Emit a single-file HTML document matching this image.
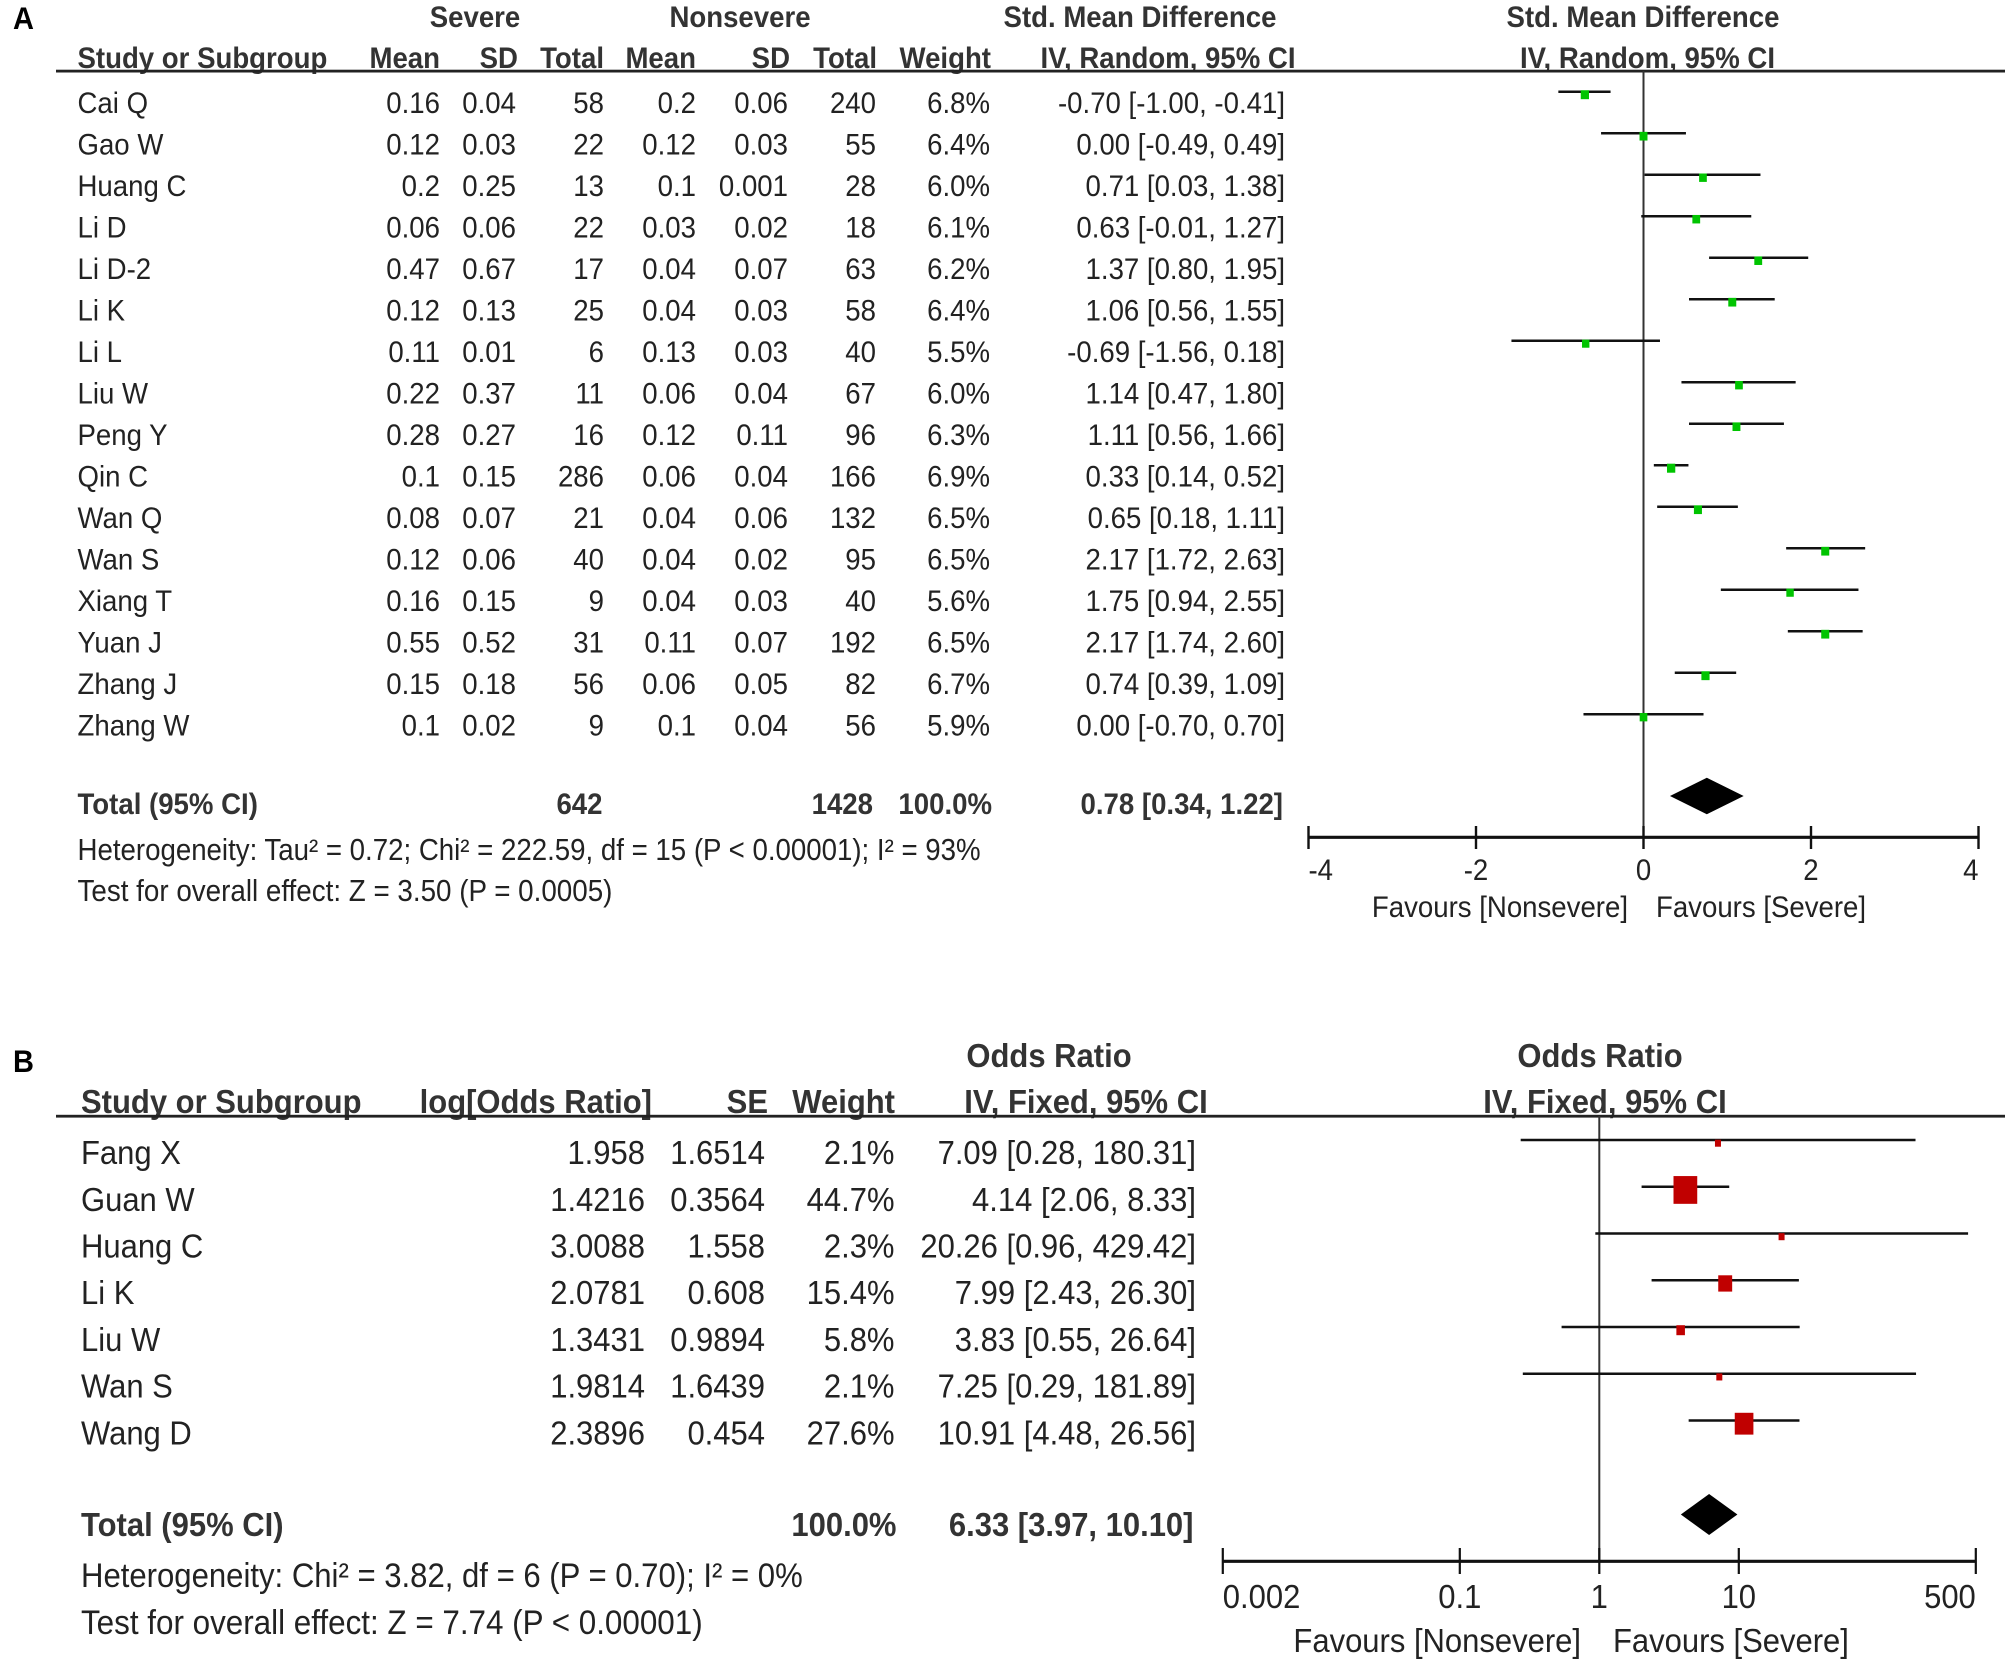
<!DOCTYPE html>
<html lang="en">
<head>
<meta charset="utf-8">
<title>Forest plots: severe vs nonsevere</title>
<style>
html,body{margin:0;padding:0;background:#fff;}
svg{display:block;}
text{font-family:"Liberation Sans",Arial,sans-serif;fill:#222;}
.a{font-size:27.6px;}
.b{font-size:31px;}
.h{font-weight:bold;fill:#333;}
.e{text-anchor:end;}
.m{text-anchor:middle;}
.p{font-size:29px;font-weight:bold;fill:#000;}
</style>
</head>
<body>
<svg id="chart" xmlns="http://www.w3.org/2000/svg" width="2008" height="1664" viewBox="0 0 2008 1664">
<rect x="0" y="0" width="2008" height="1664" fill="#fff"/>

<g id="panelA">
<text class="p" x="13" y="29">A</text>
<text class="a h m" x="475" y="27">Severe</text>
<text class="a h m" x="740" y="27">Nonsevere</text>
<text class="a h m" x="1140" y="27">Std. Mean Difference</text>
<text class="a h m" x="1643" y="27">Std. Mean Difference</text>
<text class="a h" x="77.5" y="68">Study or Subgroup</text>
<text class="a h e" x="440" y="68">Mean</text>
<text class="a h e" x="518" y="68">SD</text>
<text class="a h e" x="604" y="68">Total</text>
<text class="a h e" x="696" y="68">Mean</text>
<text class="a h e" x="790" y="68">SD</text>
<text class="a h e" x="877" y="68">Total</text>
<text class="a h e" x="991" y="68">Weight</text>
<text class="a h m" x="1168" y="68">IV, Random, 95% CI</text>
<text class="a h m" x="1647.5" y="68">IV, Random, 95% CI</text>
<rect x="56" y="69.7" width="1949" height="2.8" fill="#222"/>
<text class="a h" x="77.5" y="814">Total (95% CI)</text>
<text class="a h e" x="602.5" y="814">642</text>
<text class="a h e" x="873" y="814">1428</text>
<text class="a h e" x="992" y="814">100.0%</text>
<text class="a" style="font-size:27.65px" x="77.5" y="860">Heterogeneity: Tau² = 0.72; Chi² = 222.59, df = 15 (P &lt; 0.00001); I² = 93%</text>
<text class="a" style="font-size:27.8px" x="77.5" y="901">Test for overall effect: Z = 3.50 (P = 0.0005)</text>
<text class="a e" x="1628" y="917">Favours [Nonsevere]</text>
<text class="a" x="1656" y="917">Favours [Severe]</text>
</g>

<g id="panelB">
<text class="p" x="13" y="1072">B</text>
<text class="b h m" x="1049" y="1067">Odds Ratio</text>
<text class="b h m" x="1600" y="1067">Odds Ratio</text>
<text class="b h" x="81" y="1113">Study or Subgroup</text>
<text class="b h e" x="652" y="1113">log[Odds Ratio]</text>
<text class="b h e" x="768" y="1113">SE</text>
<text class="b h e" x="895" y="1113">Weight</text>
<text class="b h m" x="1086" y="1113">IV, Fixed, 95% CI</text>
<text class="b h m" x="1605" y="1113">IV, Fixed, 95% CI</text>
<rect x="56" y="1114.8" width="1949" height="2.8" fill="#222"/>
<text class="b h" x="81" y="1536">Total (95% CI)</text>
<text class="b h e" x="896.5" y="1536">100.0%</text>
<text class="b" style="font-size:31.1px" x="81" y="1587">Heterogeneity: Chi² = 3.82, df = 6 (P = 0.70); I² = 0%</text>
<text class="b" style="font-size:31.4px" x="81" y="1634">Test for overall effect: Z = 7.74 (P &lt; 0.00001)</text>
<text class="b e" x="1581" y="1652">Favours [Nonsevere]</text>
<text class="b" x="1613" y="1652">Favours [Severe]</text>
</g>
</svg>

<script>
// Panel A data
var studiesA = ['Cai Q','Gao W','Huang C','Li D','Li D-2','Li K','Li L','Liu W','Peng Y','Qin C','Wan Q','Wan S','Xiang T','Yuan J','Zhang J','Zhang W'];
var severeMean = ['0.16','0.12','0.2','0.06','0.47','0.12','0.11','0.22','0.28','0.1','0.08','0.12','0.16','0.55','0.15','0.1'];
var severeSD = ['0.04','0.03','0.25','0.06','0.67','0.13','0.01','0.37','0.27','0.15','0.07','0.06','0.15','0.52','0.18','0.02'];
var severeTotal = [58,22,13,22,17,25,6,11,16,286,21,40,9,31,56,9];
var nonMean = ['0.2','0.12','0.1','0.03','0.04','0.04','0.13','0.06','0.12','0.06','0.04','0.04','0.04','0.11','0.06','0.1'];
var nonSD = ['0.06','0.03','0.001','0.02','0.07','0.03','0.03','0.04','0.11','0.04','0.06','0.02','0.03','0.07','0.05','0.04'];
var nonTotal = [240,55,28,18,63,58,40,67,96,166,132,95,40,192,82,56];
var weightA = [6.8,6.4,6.0,6.1,6.2,6.4,5.5,6.0,6.3,6.9,6.5,6.5,5.6,6.5,6.7,5.9];
var smd = [-0.70,0.00,0.71,0.63,1.37,1.06,-0.69,1.14,1.11,0.33,0.65,2.17,1.75,2.17,0.74,0.00];
var smdLow = [-1.00,-0.49,0.03,-0.01,0.80,0.56,-1.56,0.47,0.56,0.14,0.18,1.72,0.94,1.74,0.39,-0.70];
var smdHigh = [-0.41,0.49,1.38,1.27,1.95,1.55,0.18,1.80,1.66,0.52,1.11,2.63,2.55,2.60,1.09,0.70];
var totalA = [0.78,0.34,1.22];
var ticksA = [-4,-2,0,2,4];

// Panel B data
var studiesB = ['Fang X','Guan W','Huang C','Li K','Liu W','Wan S','Wang D'];
var logOR = ['1.958','1.4216','3.0088','2.0781','1.3431','1.9814','2.3896'];
var seB = ['1.6514','0.3564','1.558','0.608','0.9894','1.6439','0.454'];
var weightB = [2.1,44.7,2.3,15.4,5.8,2.1,27.6];
var oddsRatio = [7.09,4.14,20.26,7.99,3.83,7.25,10.91];
var orLow = [0.28,2.06,0.96,2.43,0.55,0.29,4.48];
var orHigh = [180.31,8.33,429.42,26.30,26.64,181.89,26.56];
var totalB = [6.33,3.97,10.10];
var ticksB = [0.002,0.1,1,10,500];

var NS = 'http://www.w3.org/2000/svg';
var panelA = document.getElementById('panelA');
var panelB = document.getElementById('panelB');

// Axis functions
function xA(v){ return 1643.5 + v * 83.75; }
function xB(v){ return 1599.3 + Math.log(v) / Math.LN10 * 139.5; }
function rowA(i){ return 113 + i * 41.5; }
function rowB(i){ return 1164 + i * 46.75; }

function addText(parent, cls, x, y, str, name){
  var el = document.createElementNS(NS, 'text');
  el.setAttribute('class', cls);
  el.setAttribute('x', x);
  el.setAttribute('y', y);
  el.textContent = str;
  
  
  parent.appendChild(el);
  return el;
}
function addLine(parent, x1, y1, x2, y2, w, color, name){
  var el = document.createElementNS(NS, 'line');
  el.setAttribute('x1', x1);
  el.setAttribute('y1', y1);
  el.setAttribute('x2', x2);
  el.setAttribute('y2', y2);
  el.setAttribute('stroke', color);
  el.setAttribute('stroke-width', w);
  
  
  parent.appendChild(el);
  return el;
}
function addBox(parent, cx, cy, w, h, color, name){
  var el = document.createElementNS(NS, 'rect');
  el.setAttribute('x', cx - w / 2);
  el.setAttribute('y', cy - h / 2);
  el.setAttribute('width', w);
  el.setAttribute('height', h);
  el.setAttribute('fill', color);
  
  
  parent.appendChild(el);
  return el;
}
function addDiamond(parent, left, mid, right, cy, half, name){
  var el = document.createElementNS(NS, 'polygon');
  el.setAttribute('points', left + ',' + cy + ' ' + mid + ',' + (cy - half) + ' ' + right + ',' + cy + ' ' + mid + ',' + (cy + half));
  el.setAttribute('fill', '#000');
  
  
  parent.appendChild(el);
  return el;
}
function ci(e, l, h){
  return e.toFixed(2) + ' [' + l.toFixed(2) + ', ' + h.toFixed(2) + ']';
}

// Panel A rows
addLine(panelA, xA(0), 71, xA(0), 837, 2, '#333', 'no-effect-line');
studiesA.forEach(function(s, i){
  var y = rowA(i);
  var key = s.toLowerCase().replace(/\s+/g, '-');
  addText(panelA, 'a', 77.5, y, s, 'study-' + key);
  addText(panelA, 'a e', 440, y, severeMean[i], 'severe-mean-' + key);
  addText(panelA, 'a e', 516, y, severeSD[i], 'severe-sd-' + key);
  addText(panelA, 'a e', 604, y, severeTotal[i], 'severe-total-' + key);
  addText(panelA, 'a e', 696, y, nonMean[i], 'nonsevere-mean-' + key);
  addText(panelA, 'a e', 788, y, nonSD[i], 'nonsevere-sd-' + key);
  addText(panelA, 'a e', 876, y, nonTotal[i], 'nonsevere-total-' + key);
  addText(panelA, 'a e', 990, y, weightA[i].toFixed(1) + '%', 'weight-' + key);
  addText(panelA, 'a e', 1285, y, ci(smd[i], smdLow[i], smdHigh[i]), 'effect-' + key);
  var ly = y - 21.3;
  addLine(panelA, xA(smdLow[i]) - 1.4, ly, xA(smdHigh[i]) + 1.4, ly, 2.5, '#111', 'ci-line-' + key);
  var w = 3.15 * Math.sqrt(weightA[i]);
  addBox(panelA, xA(smd[i]), ly + 3, w, w * 1.09, '#00c400', 'point-' + key);
});
addText(panelA, 'a h e', 1283, 814, ci(totalA[0], totalA[1], totalA[2]), 'total-effect');
addDiamond(panelA, xA(totalA[1]) - 2, xA(totalA[0]) - 2, xA(totalA[2]) - 2, 796, 18.3, 'total-diamond');
addLine(panelA, xA(ticksA[0]), 837.3, xA(ticksA[ticksA.length - 1]), 837.3, 3.2, '#111', 'x-axis');
ticksA.forEach(function(t, i){
  addLine(panelA, xA(t), 826, xA(t), 849, 2.4, '#111', 'x-tick-' + t);
  var cls = i === 0 ? 'a' : (i === ticksA.length - 1 ? 'a e' : 'a m');
  addText(panelA, cls, xA(t), 880, t, 'x-tick-label-' + t);
});

// Panel B rows
addLine(panelB, xB(1), 1116, xB(1), 1561, 2, '#333', 'no-effect-line-b');
studiesB.forEach(function(s, i){
  var y = rowB(i);
  var key = s.toLowerCase().replace(/\s+/g, '-');
  addText(panelB, 'b', 81, y, s, 'study-b-' + key);
  addText(panelB, 'b e', 645, y, logOR[i], 'log-odds-' + key);
  addText(panelB, 'b e', 765, y, seB[i], 'se-' + key);
  addText(panelB, 'b e', 894.5, y, weightB[i].toFixed(1) + '%', 'weight-b-' + key);
  addText(panelB, 'b e', 1196, y, ci(oddsRatio[i], orLow[i], orHigh[i]), 'odds-ratio-' + key);
  var ly = y - 24;
  addLine(panelB, xB(orLow[i]) - 1.5, ly, xB(orHigh[i]) + 1.5, ly, 2.5, '#111', 'ci-line-b-' + key);
  var w = Math.max(6, 3.55 * Math.sqrt(weightB[i]));
  addBox(panelB, xB(oddsRatio[i]), ly + 3.2, w, w * 1.17, '#c00000', 'point-b-' + key);
});
addText(panelB, 'b h e', 1193.5, 1536, ci(totalB[0], totalB[1], totalB[2]), 'total-odds-ratio');
addDiamond(panelB, xB(totalB[1]) - 2, xB(totalB[0]) - 2, xB(totalB[2]) - 2, 1514.5, 20.5, 'total-diamond-b');
addLine(panelB, xB(ticksB[0]), 1561.3, xB(ticksB[ticksB.length - 1]), 1561.3, 3.2, '#111', 'x-axis-b');
ticksB.forEach(function(t, i){
  addLine(panelB, xB(t), 1548, xB(t), 1574, 2.2, '#111', 'x-tick-b-' + t);
  var cls = i === 0 ? 'b' : (i === ticksB.length - 1 ? 'b e' : 'b m');
  addText(panelB, cls, xB(t), 1608, t, 'x-tick-label-b-' + t);
});

// The reference glyphs are slightly taller than they are wide: stretch each label about its baseline.
var glyphStretch = 1.09;
Array.prototype.forEach.call(document.querySelectorAll('#chart text'), function(t){
  var by = parseFloat(t.getAttribute('y'));
  t.setAttribute('transform', 'translate(0 ' + by + ') scale(1 ' + glyphStretch + ') translate(0 ' + (-by) + ')');
});
</script>
</body>
</html>
